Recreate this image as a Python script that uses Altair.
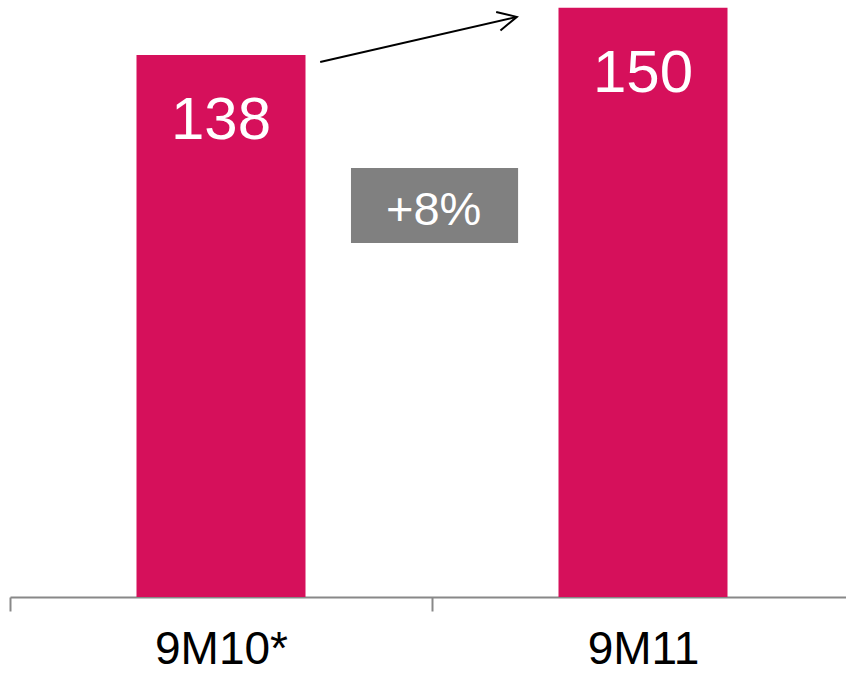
import altair as alt
import pandas as pd

categories = ["9M10*", "9M11"]
values = [138, 150]
labels = ["138", "150"]

growth_label = "+8%"

bar_color = "#D6105B"
box_color = "#808080"

bars_df = pd.DataFrame({"cat": categories, "val": values, "lab": labels})

# annotation geometry in data units (category + band fraction, value)
arrow_df = pd.DataFrame({
    "c1": [categories[0]], "c2": [categories[1]],
    "v1": [136.2], "v2": [147.7],
})
box_df = pd.DataFrame({
    "c1": [categories[0]], "c2": [categories[1]],
    "v1": [109.2], "v2": [90.1], "t": [growth_label], "vt": [94.7],
})

xscale = alt.Scale(domain=categories, range=[0, 844], paddingInner=0, paddingOuter=0)
yscale = alt.Scale(domain=[0, 152], nice=False, zero=True)

xaxis = alt.Axis(
    title=None, labelAngle=0, labelFontSize=46,
    labelFont="Liberation Sans",
    labelColor="#000000", labelBaseline="alphabetic", labelPadding=52,
    domainColor="#888888", domainWidth=2, tickColor="#888888", tickWidth=2,
    tickSize=14, tickBand="extent", grid=False,
)

base = alt.Chart(bars_df)

bars = base.mark_bar(color=bar_color, width=169).encode(
    x=alt.X("cat:N", scale=xscale, axis=xaxis, sort=categories),
    y=alt.Y("val:Q", scale=yscale, axis=None),
)

bar_text = base.mark_text(
    color="white", fontSize=60, font="Liberation Sans", baseline="alphabetic",
    align="center", dy=84,
).encode(
    x=alt.X("cat:N", scale=xscale, sort=categories),
    y=alt.Y("val:Q", scale=yscale),
    text="lab:N",
)

arrow_line = alt.Chart(arrow_df).mark_rule(color="black", strokeWidth=2).encode(
    x=alt.X("c1:N", scale=xscale, bandPosition=0.735),
    x2=alt.X2("c2", bandPosition=0.201),
    y=alt.Y("v1:Q", scale=yscale),
    y2=alt.Y2("v2"),
)

arrow_head = alt.Chart(arrow_df).mark_point(
    shape="M -1 -0.5 L 0 0 L -1 0.5", filled=False, color="black",
    strokeWidth=2, size=1444, angle=347, opacity=1,
).encode(
    x=alt.X("c2:N", scale=xscale, bandPosition=0.201),
    y=alt.Y("v2:Q", scale=yscale),
)

box = alt.Chart(box_df).mark_rect(color=box_color).encode(
    x=alt.X("c1:N", scale=xscale, bandPosition=0.808),
    x2=alt.X2("c2", bandPosition=0.204),
    y=alt.Y("v1:Q", scale=yscale),
    y2=alt.Y2("v2"),
)

box_text = alt.Chart(box_df).mark_text(
    color="white", fontSize=47, font="Liberation Sans", baseline="alphabetic",
    align="center",
).encode(
    x=alt.X("c2:N", scale=xscale, bandPosition=0.004),
    y=alt.Y("vt:Q", scale=yscale),
    text="t:N",
)

chart = alt.layer(bars, bar_text, box, box_text, arrow_line, arrow_head).properties(
    width=836, height=597,
    padding={"left": 10, "right": 0, "top": 0, "bottom": 77},
    autosize=alt.AutoSizeParams(type="none"),
    background="white",
).configure_view(stroke=None)

chart.save("out.html", embed_options={"renderer": "svg", "actions": False})
